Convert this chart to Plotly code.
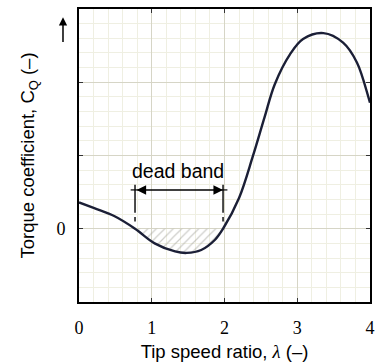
import plotly.graph_objects as go

# Torque coefficient vs tip speed ratio
tip_speed_ratio = [0.0, 0.21, 0.49, 0.77, 1.04, 1.32, 1.48, 1.68, 1.87, 1.98,
                   2.2, 2.39, 2.55, 2.69, 2.9, 3.08, 3.36, 3.63, 3.82, 3.98, 4.0]
torque_coeff = [0.36, 0.28, 0.17, 0.0, -0.20, -0.31, -0.33, -0.29, -0.15, 0.0,
                0.42, 0.99, 1.52, 1.97, 2.38, 2.59, 2.67, 2.54, 2.27, 1.79, 1.72]

# dead band limits (zero crossings of the torque curve)
band_start, band_end = 0.77, 1.98
band_level = 0.53

x_ticks = [0, 1, 2, 3, 4]
y_ticks = [-1, 0, 1, 2, 3]
y_tick_text = ["", "0", "", "", ""]

sans = "Liberation Sans, Arial, sans-serif"
serif = "Liberation Serif, Times New Roman, serif"
ink = "#1b1f36"

band_x = [x for x in tip_speed_ratio if band_start <= x <= band_end]
band_y = [y for x, y in zip(tip_speed_ratio, torque_coeff) if band_start <= x <= band_end]

fig = go.Figure()

# hatched region below zero inside the dead band
fig.add_trace(go.Scatter(
    x=band_x, y=band_y, mode="lines",
    line=dict(width=0, shape="spline"),
    fill="tozeroy", fillcolor="rgba(0,0,0,0)",
    fillpattern=dict(shape="/", fgcolor="#9c9c94", bgcolor="rgba(0,0,0,0)",
                     size=6, solidity=0.2),
    hoverinfo="skip", showlegend=False,
))

fig.add_trace(go.Scatter(
    x=tip_speed_ratio, y=torque_coeff, mode="lines",
    line=dict(color=ink, width=2.4, shape="spline", smoothing=1.0),
    showlegend=False,
))

# dead band markers: vertical limits with a short dash near the axis
for xb in (band_start, band_end):
    fig.add_shape(type="line", x0=xb, x1=xb, y0=0.22, y1=0.6,
                  line=dict(color="black", width=1.4))
    fig.add_shape(type="line", x0=xb, x1=xb, y0=0.10, y1=0.16,
                  line=dict(color="black", width=1.4))
    fig.add_shape(type="line", x0=xb - 0.06, x1=xb + 0.06, y0=band_level, y1=band_level,
                  line=dict(color="black", width=1.2))

fig.add_annotation(
    x=band_end, y=band_level, ax=band_start, ay=band_level,
    xref="x", yref="y", axref="x", ayref="y",
    text="", showarrow=True, arrowside="end+start",
    arrowhead=2, arrowsize=1.2, arrowwidth=1.6, arrowcolor="black",
    startarrowhead=2, startarrowsize=1.2, standoff=0, startstandoff=0,
)
fig.add_annotation(
    x=(band_start + band_end) / 2 - 0.01, y=0.79, xref="x", yref="y",
    text="dead band", showarrow=False,
    font=dict(family=sans, size=19.5, color="black"),
)

# upward arrow beside the y-axis title
fig.add_annotation(
    x=-0.055, y=0.972, ax=-0.055, ay=0.882,
    xref="x domain", yref="y domain", axref="x domain", ayref="y domain",
    text="", showarrow=True, arrowhead=2, arrowsize=1.1, arrowwidth=1.5,
    arrowcolor="black", standoff=0,
)

axis_common = dict(
    showline=True, linecolor="black", linewidth=2, mirror="ticks",
    ticks="inside", ticklen=4, tickwidth=1.2, tickcolor="#333333",
    showgrid=True, gridcolor="#d6d5c6", gridwidth=1,
    zeroline=False, automargin=False,
    tickfont=dict(family=serif, size=18, color="black"),
    minor=dict(showgrid=True, gridcolor="#efefe2", gridwidth=1, dtick=0.2, ticks=""),
)

fig.update_xaxes(
    range=[0, 4], tickvals=x_ticks, ticklabelstandoff=8,
    title=dict(text="Tip speed ratio, <span style='font-family:Liberation Serif'><i>λ</i></span> (–)",
               font=dict(family=sans, size=18.5, color="black"), standoff=8),
    **axis_common,
)
fig.update_yaxes(
    range=[-1, 3], tickvals=y_ticks, ticktext=y_tick_text, ticklabelstandoff=8,
    title=dict(text="Torque coefficient, C<sub>Q</sub> (–)",
               font=dict(family=sans, size=18.5, color="black"), standoff=17),
    **axis_common,
)

fig.update_layout(
    width=379, height=363,
    margin=dict(l=79, r=9, t=9, b=61),
    paper_bgcolor="white", plot_bgcolor="white",
)

fig.write_html("out.html")
